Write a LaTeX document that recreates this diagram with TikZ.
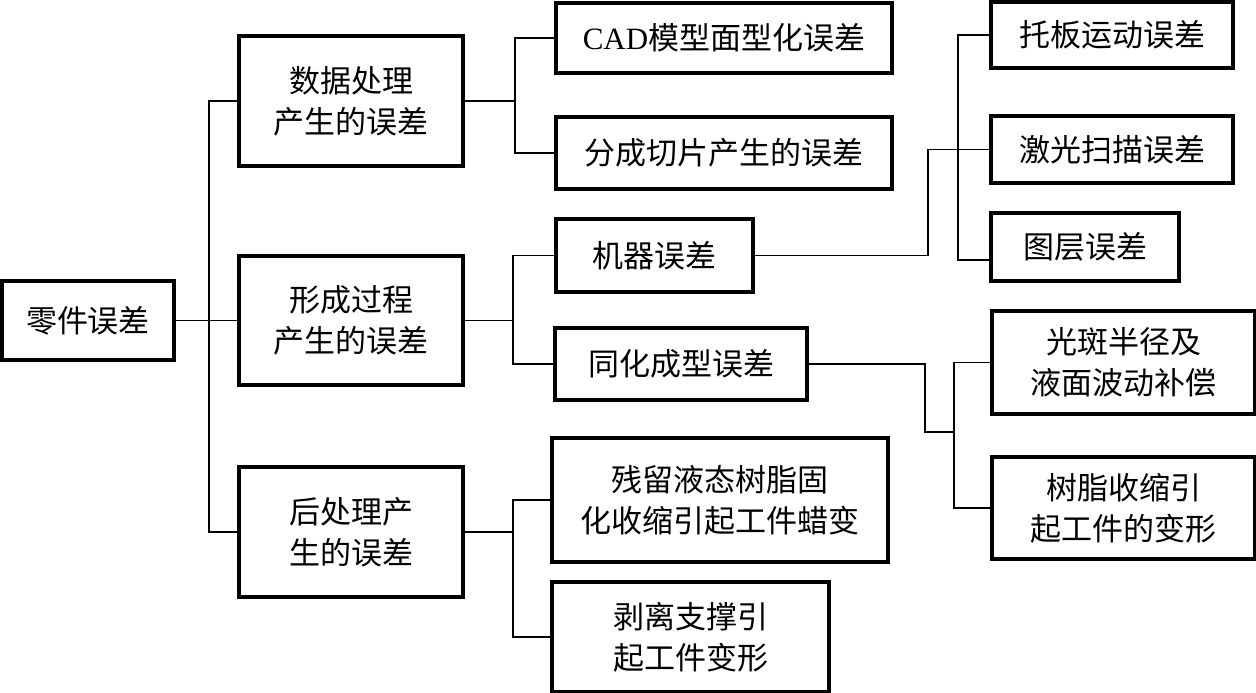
\documentclass[tikz,border=0pt]{standalone}
\usepackage{fontspec}
\setmainfont{Liberation Serif}
\newfontfamily\cjk{Noto Sans CJK SC}

\tikzset{
    errbox/.style={draw, line width=3.5pt, align=center, inner sep=0pt,
        font=\cjk\fontsize{31}{41}\selectfont},
    link/.style={line width=1.8pt}
}

\begin{document}
\begin{tikzpicture}[x=1pt, y=-1pt]
        % Fix the page size
        \useasboundingbox (0,0) rectangle (1256,693);

        % Define the boxes: name/x/y/width/height/text
        \foreach \name/\x/\y/\w/\h/\txt in {
            root/88/320.5/172/79/{零件误差},
            data/351/101/224/130/{数据处理\\产生的误差},
            form/351/320.5/224/129/{形成过程\\产生的误差},
            post/351/532/224/130/{后处理产\\生的误差},
            cad/724/38/336/70/{\textrm{CAD}模型面型化误差},
            slice/724/153/336/72/{分成切片产生的误差},
            mach/654.5/255.5/197/73/{机器误差},
            cure/681/364/252/72/{同化成型误差},
            resid/720/500/336/124/{残留液态树脂固\\化收缩引起工件蜡变},
            peel/690.5/637/277/110/{剥离支撑引\\起工件变形},
            plate/1112/35/242/66/{托板运动误差},
            laser/1112/149.5/242/67/{激光扫描误差},
            layer/1085/247/188/68/{图层误差},
            spot/1123.5/362.5/263/103/{光斑半径及\\液面波动补偿},
            shrink/1123.5/508/263/102/{树脂收缩引\\起工件的变形}}
        {
            \node[errbox, minimum width=\w pt, minimum height=\h pt] (\name) at (\x,\y) {\txt};
        }

        % Define the bend points
        \coordinate (trunk) at (209,0);
        \coordinate (b1) at (515,0);
        \coordinate (b2) at (513,0);
        \coordinate (b3) at (513,0);
        \coordinate (m1) at (928,0);
        \coordinate (m2) at (958,0);
        \coordinate (c1) at (925,432);
        \coordinate (c2) at (954,432);

        % First level
        \draw[link] (root.east) -- (form.west);
        \draw[link] (data.west) -| (trunk |- form.west) |- (post.west);

        % Second level
        \draw[link] (data.east) -- (data.east -| b1);
        \draw[link] (cad.west) -| (b1 |- data.east) |- (slice.west);
        \draw[link] (form.east) -- (form.east -| b2);
        \draw[link] (mach.west) -| (b2 |- form.east) |- (cure.west);
        \draw[link] (post.east) -- (post.east -| b3);
        \draw[link] (resid.west) -| (b3 |- post.east) |- (peel.west);

        % Machine errors
        \draw[link] (mach.east) -| (m1 |- laser.west) -- (laser.west);
        \draw[link] (plate.west) -| (m2 |- laser.west) |- ([yshift=-13pt]layer.west);

        % Curing errors
        \draw[link] (cure.east) -| (c1) -- (c2);
        \draw[link] (spot.west) -| (c2) |- (shrink.west);
    \end{tikzpicture}
\end{document}
